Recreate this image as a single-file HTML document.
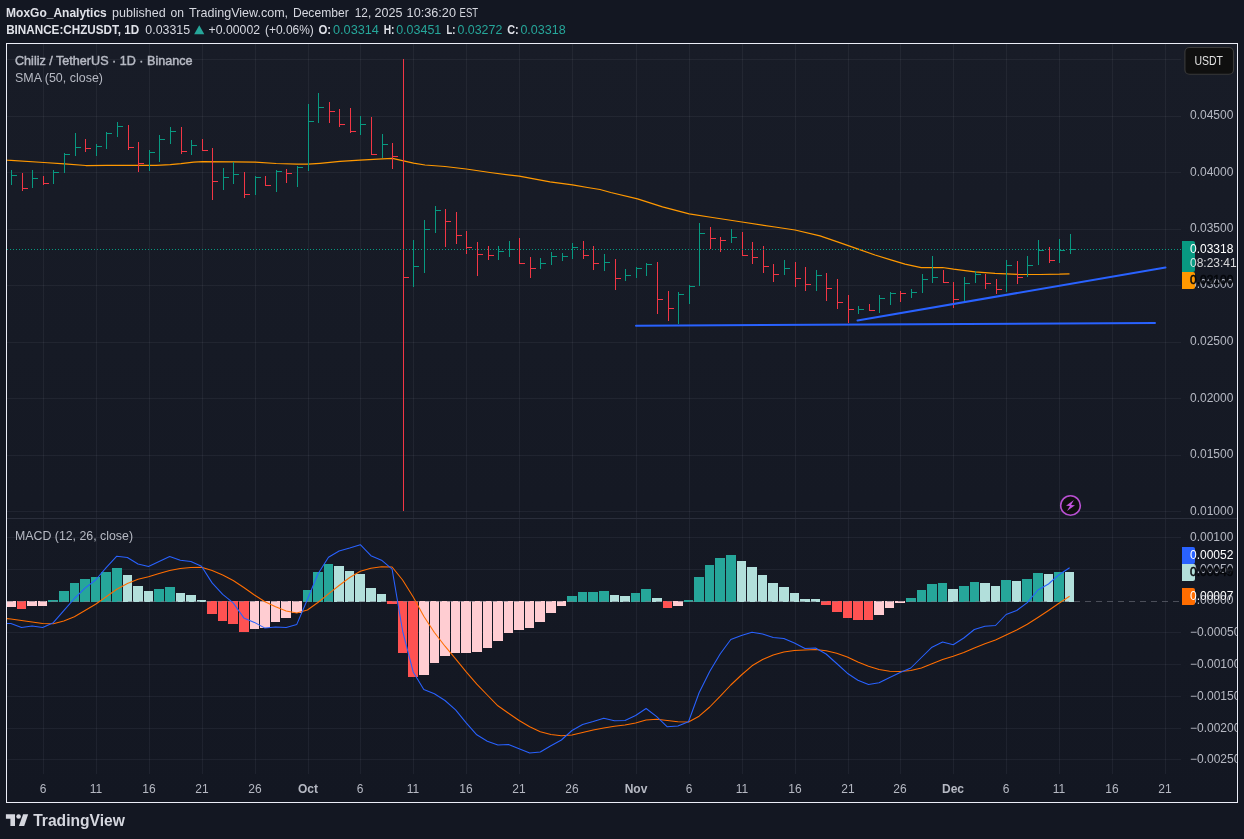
<!DOCTYPE html>
<html><head><meta charset="utf-8"><title>CHZUSDT</title>
<style>
html,body{margin:0;padding:0;background:#131722;}
body{width:1244px;height:839px;overflow:hidden;position:relative;font-family:"Liberation Sans",sans-serif;}
.hdr{position:absolute;left:7px;white-space:nowrap;color:#d6d8e0;font-size:12.6px;line-height:16px;height:16px;}
.hdr b{font-weight:bold;color:#dfe1e8}
.t{color:#26a69a}
#frame{position:absolute;left:6px;top:43px;width:1232px;height:760px;box-sizing:border-box;border:1px solid #eceef8;
background:linear-gradient(180deg,#181c27 0%,#131722 100%);}
svg{position:absolute;left:0;top:0;will-change:transform}
text{font-family:"Liberation Sans",sans-serif}
</style></head><body>
<div id="frame"></div>
<svg width="1244" height="839" viewBox="0 0 1244 839">
<defs><clipPath id="cp1"><rect x="7" y="44" width="1174" height="474"/></clipPath>
<clipPath id="cp2"><rect x="7" y="519" width="1174" height="255"/></clipPath>
<clipPath id="cax"><rect x="1181" y="44" width="56" height="730"/></clipPath></defs>

<text x="6.1" y="16.9" font-size="12.2" fill="#e0e2e9" font-weight="bold" textLength="100.7" lengthAdjust="spacingAndGlyphs">MoxGo_Analytics</text>
<text x="112.0" y="16.9" font-size="12.2" fill="#d6d8e0" textLength="53.6" lengthAdjust="spacingAndGlyphs">published</text>
<text x="170.4" y="16.9" font-size="12.2" fill="#d6d8e0" textLength="13.5" lengthAdjust="spacingAndGlyphs">on</text>
<text x="189.1" y="16.9" font-size="12.2" fill="#d6d8e0" textLength="99.0" lengthAdjust="spacingAndGlyphs">TradingView.com,</text>
<text x="292.9" y="16.9" font-size="12.2" fill="#d6d8e0" textLength="55.8" lengthAdjust="spacingAndGlyphs">December</text>
<text x="354.8" y="16.9" font-size="12.2" fill="#d6d8e0" textLength="16.4" lengthAdjust="spacingAndGlyphs">12,</text>
<text x="374.5" y="16.9" font-size="12.2" fill="#d6d8e0" textLength="28.0" lengthAdjust="spacingAndGlyphs">2025</text>
<text x="406.6" y="16.9" font-size="12.2" fill="#d6d8e0" textLength="49.4" lengthAdjust="spacingAndGlyphs">10:36:20</text>
<text x="459.6" y="16.9" font-size="12.2" fill="#d6d8e0" textLength="18.6" lengthAdjust="spacingAndGlyphs">EST</text>
<text x="6.2" y="33.8" font-size="12.2" fill="#e0e2e9" font-weight="bold" textLength="133.0" lengthAdjust="spacingAndGlyphs">BINANCE:CHZUSDT, 1D</text>
<text x="145.3" y="33.8" font-size="12.2" fill="#d6d8e0" textLength="44.8" lengthAdjust="spacingAndGlyphs">0.03315</text>
<path fill="#26a69a" d="M194.2 34.2L204.3 34.2L199.25 25.2Z"/>
<text x="208.6" y="33.8" font-size="12.2" fill="#d6d8e0" textLength="51.5" lengthAdjust="spacingAndGlyphs">+0.00002</text>
<text x="265.0" y="33.8" font-size="12.2" fill="#d6d8e0" textLength="48.8" lengthAdjust="spacingAndGlyphs">(+0.06%)</text>
<text x="318.4" y="33.8" font-size="12.2" fill="#e0e2e9" font-weight="bold" textLength="12.7" lengthAdjust="spacingAndGlyphs">O:</text>
<text x="333.0" y="33.8" font-size="12.2" fill="#26a69a" textLength="45.9" lengthAdjust="spacingAndGlyphs">0.03314</text>
<text x="383.7" y="33.8" font-size="12.2" fill="#e0e2e9" font-weight="bold" textLength="10.8" lengthAdjust="spacingAndGlyphs">H:</text>
<text x="396.2" y="33.8" font-size="12.2" fill="#26a69a" textLength="45.1" lengthAdjust="spacingAndGlyphs">0.03451</text>
<text x="446.4" y="33.8" font-size="12.2" fill="#e0e2e9" font-weight="bold" textLength="8.9" lengthAdjust="spacingAndGlyphs">L:</text>
<text x="457.5" y="33.8" font-size="12.2" fill="#26a69a" textLength="44.8" lengthAdjust="spacingAndGlyphs">0.03272</text>
<text x="507.2" y="33.8" font-size="12.2" fill="#e0e2e9" font-weight="bold" textLength="11.5" lengthAdjust="spacingAndGlyphs">C:</text>
<text x="520.4" y="33.8" font-size="12.2" fill="#26a69a" textLength="45.3" lengthAdjust="spacingAndGlyphs">0.03318</text>
<g stroke="#f0f3fa" stroke-opacity="0.055" stroke-width="1" shape-rendering="crispEdges">
<line x1="43.5" y1="44" x2="43.5" y2="774"/>
<line x1="96.5" y1="44" x2="96.5" y2="774"/>
<line x1="149.5" y1="44" x2="149.5" y2="774"/>
<line x1="202.5" y1="44" x2="202.5" y2="774"/>
<line x1="255.5" y1="44" x2="255.5" y2="774"/>
<line x1="308.5" y1="44" x2="308.5" y2="774"/>
<line x1="360.5" y1="44" x2="360.5" y2="774"/>
<line x1="413.5" y1="44" x2="413.5" y2="774"/>
<line x1="466.5" y1="44" x2="466.5" y2="774"/>
<line x1="519.5" y1="44" x2="519.5" y2="774"/>
<line x1="572.5" y1="44" x2="572.5" y2="774"/>
<line x1="636.5" y1="44" x2="636.5" y2="774"/>
<line x1="689.5" y1="44" x2="689.5" y2="774"/>
<line x1="742.5" y1="44" x2="742.5" y2="774"/>
<line x1="795.5" y1="44" x2="795.5" y2="774"/>
<line x1="848.5" y1="44" x2="848.5" y2="774"/>
<line x1="900.5" y1="44" x2="900.5" y2="774"/>
<line x1="953.5" y1="44" x2="953.5" y2="774"/>
<line x1="1006.5" y1="44" x2="1006.5" y2="774"/>
<line x1="1059.5" y1="44" x2="1059.5" y2="774"/>
<line x1="1112.5" y1="44" x2="1112.5" y2="774"/>
<line x1="1165.5" y1="44" x2="1165.5" y2="774"/>
<line x1="7" y1="59.5" x2="1181" y2="59.5"/>
<line x1="7" y1="116.5" x2="1181" y2="116.5"/>
<line x1="7" y1="172.5" x2="1181" y2="172.5"/>
<line x1="7" y1="229.5" x2="1181" y2="229.5"/>
<line x1="7" y1="285.5" x2="1181" y2="285.5"/>
<line x1="7" y1="342.5" x2="1181" y2="342.5"/>
<line x1="7" y1="398.5" x2="1181" y2="398.5"/>
<line x1="7" y1="455.5" x2="1181" y2="455.5"/>
<line x1="7" y1="511.5" x2="1181" y2="511.5"/>
<line x1="7" y1="537.5" x2="1181" y2="537.5"/>
<line x1="7" y1="569.5" x2="1181" y2="569.5"/>
<line x1="7" y1="632.5" x2="1181" y2="632.5"/>
<line x1="7" y1="664.5" x2="1181" y2="664.5"/>
<line x1="7" y1="696.5" x2="1181" y2="696.5"/>
<line x1="7" y1="728.5" x2="1181" y2="728.5"/>
<line x1="7" y1="759.5" x2="1181" y2="759.5"/>
</g>
<line x1="7" y1="518.5" x2="1237" y2="518.5" stroke="#2a2e3b" stroke-width="1" shape-rendering="crispEdges"/>
<g clip-path="url(#cp1)">
<polyline fill="none" stroke="#ff9800" stroke-width="1.25" stroke-linejoin="round" points="6.0,159.6 7.0,160.0 43.8,162.5 64.5,163.8 85.8,165.5 106.8,165.4 138.5,165.4 156.0,165.3 170.2,164.7 181.0,163.7 193.6,162.1 202.5,161.6 233.5,161.8 255.2,162.2 276.2,163.5 297.2,164.2 308.0,164.2 320.0,163.3 340.0,161.4 360.0,160.1 382.5,158.9 392.5,158.4 403.5,160.8 413.5,163.2 425.0,165.0 445.0,166.5 466.2,169.0 490.0,172.5 519.2,176.2 550.0,181.8 572.5,184.8 587.5,187.5 600.0,189.5 610.8,192.5 637.5,198.8 662.5,206.8 689.2,213.8 712.5,217.5 742.0,222.0 775.0,227.0 795.0,230.0 820.0,235.8 837.5,241.8 857.5,248.8 875.0,255.0 890.0,259.6 905.0,264.2 913.0,265.9 921.2,267.6 942.5,267.5 953.5,269.2 975.0,271.8 995.0,273.4 1017.5,274.3 1040.0,274.5 1059.5,274.2 1069.5,273.8"/>
<g shape-rendering="crispEdges">
<path fill="#089981" d="M11 170h1v15h-1zM12 175h5v1h-5z"/>
<path fill="#f23645" d="M22 173h1v18h-1zM23 188h5v1h-5z"/>
<path fill="#089981" d="M32 170h1v18h-1zM33 178h5v1h-5z"/>
<path fill="#f23645" d="M43 176h1v9h-1zM44 183h5v1h-5z"/>
<path fill="#089981" d="M53 170h1v14h-1zM54 172h5v1h-5z"/>
<path fill="#089981" d="M64 153h1v20h-1zM65 154h5v1h-5z"/>
<path fill="#089981" d="M75 133h1v23h-1zM76 147h5v1h-5z"/>
<path fill="#f23645" d="M85 139h1v13h-1zM86 148h5v1h-5z"/>
<path fill="#089981" d="M96 144h1v12h-1zM97 146h5v1h-5z"/>
<path fill="#089981" d="M106 132h1v17h-1zM107 133h5v1h-5z"/>
<path fill="#089981" d="M117 122h1v15h-1zM118 126h5v1h-5z"/>
<path fill="#f23645" d="M128 125h1v25h-1zM129 147h5v1h-5z"/>
<path fill="#f23645" d="M138 142h1v30h-1zM139 163h5v1h-5z"/>
<path fill="#089981" d="M149 150h1v21h-1zM150 152h5v1h-5z"/>
<path fill="#089981" d="M159 135h1v27h-1zM160 139h5v1h-5z"/>
<path fill="#089981" d="M170 127h1v17h-1zM171 131h5v1h-5z"/>
<path fill="#f23645" d="M181 127h1v27h-1zM182 151h5v1h-5z"/>
<path fill="#089981" d="M191 140h1v15h-1zM192 145h5v1h-5z"/>
<path fill="#f23645" d="M202 139h1v12h-1zM203 150h5v1h-5z"/>
<path fill="#f23645" d="M212 148h1v52h-1zM213 181h5v1h-5z"/>
<path fill="#089981" d="M223 168h1v22h-1zM224 177h5v1h-5z"/>
<path fill="#089981" d="M233 162h1v22h-1zM234 174h5v1h-5z"/>
<path fill="#f23645" d="M244 172h1v26h-1zM245 194h5v1h-5z"/>
<path fill="#089981" d="M255 176h1v19h-1zM256 177h5v1h-5z"/>
<path fill="#f23645" d="M265 176h1v10h-1zM266 185h5v1h-5z"/>
<path fill="#089981" d="M276 170h1v22h-1zM277 171h5v1h-5z"/>
<path fill="#f23645" d="M286 169h1v14h-1zM287 173h5v1h-5z"/>
<path fill="#089981" d="M297 166h1v21h-1zM298 167h5v1h-5z"/>
<path fill="#089981" d="M308 104h1v67h-1zM309 121h5v1h-5z"/>
<path fill="#089981" d="M318 93h1v30h-1zM319 107h5v1h-5z"/>
<path fill="#f23645" d="M329 102h1v21h-1zM330 111h5v1h-5z"/>
<path fill="#f23645" d="M339 109h1v18h-1zM340 124h5v1h-5z"/>
<path fill="#f23645" d="M350 108h1v25h-1zM351 131h5v1h-5z"/>
<path fill="#089981" d="M360 116h1v19h-1zM361 124h5v1h-5z"/>
<path fill="#f23645" d="M371 117h1v38h-1zM372 154h5v1h-5z"/>
<path fill="#089981" d="M382 134h1v24h-1zM383 144h5v1h-5z"/>
<path fill="#f23645" d="M392 143h1v26h-1zM393 156h5v1h-5z"/>
<path fill="#f23645" d="M403 59h1v452h-1zM404 277h5v1h-5z"/>
<path fill="#089981" d="M413 240h1v47h-1zM414 266h5v1h-5z"/>
<path fill="#089981" d="M424 220h1v53h-1zM425 229h5v1h-5z"/>
<path fill="#089981" d="M435 206h1v27h-1zM436 210h5v1h-5z"/>
<path fill="#f23645" d="M445 209h1v38h-1zM446 221h5v1h-5z"/>
<path fill="#f23645" d="M456 212h1v32h-1zM457 235h5v1h-5z"/>
<path fill="#f23645" d="M466 231h1v23h-1zM467 247h5v1h-5z"/>
<path fill="#f23645" d="M477 242h1v34h-1zM478 254h5v1h-5z"/>
<path fill="#f23645" d="M488 246h1v14h-1zM489 255h5v1h-5z"/>
<path fill="#089981" d="M498 246h1v14h-1zM499 251h5v1h-5z"/>
<path fill="#089981" d="M509 241h1v16h-1zM510 249h5v1h-5z"/>
<path fill="#f23645" d="M519 238h1v26h-1zM520 263h5v1h-5z"/>
<path fill="#f23645" d="M530 257h1v21h-1zM531 268h5v1h-5z"/>
<path fill="#089981" d="M540 258h1v11h-1zM541 263h5v1h-5z"/>
<path fill="#089981" d="M551 252h1v13h-1zM552 256h5v1h-5z"/>
<path fill="#089981" d="M562 253h1v8h-1zM563 256h5v1h-5z"/>
<path fill="#089981" d="M572 243h1v16h-1zM573 247h5v1h-5z"/>
<path fill="#f23645" d="M583 241h1v18h-1zM584 255h5v1h-5z"/>
<path fill="#f23645" d="M593 246h1v24h-1zM594 263h5v1h-5z"/>
<path fill="#089981" d="M604 254h1v17h-1zM605 262h5v1h-5z"/>
<path fill="#f23645" d="M615 259h1v31h-1zM616 278h5v1h-5z"/>
<path fill="#089981" d="M625 269h1v12h-1zM626 275h5v1h-5z"/>
<path fill="#089981" d="M636 267h1v11h-1zM637 268h5v1h-5z"/>
<path fill="#089981" d="M646 263h1v13h-1zM647 264h5v1h-5z"/>
<path fill="#f23645" d="M657 262h1v52h-1zM658 299h5v1h-5z"/>
<path fill="#f23645" d="M668 291h1v30h-1zM669 308h5v1h-5z"/>
<path fill="#089981" d="M678 292h1v32h-1zM679 294h5v1h-5z"/>
<path fill="#089981" d="M689 285h1v19h-1zM690 286h5v1h-5z"/>
<path fill="#089981" d="M699 223h1v63h-1zM700 233h5v1h-5z"/>
<path fill="#f23645" d="M710 227h1v22h-1zM711 238h5v1h-5z"/>
<path fill="#f23645" d="M720 237h1v15h-1zM721 240h5v1h-5z"/>
<path fill="#089981" d="M731 229h1v14h-1zM732 237h5v1h-5z"/>
<path fill="#f23645" d="M742 232h1v24h-1zM743 255h5v1h-5z"/>
<path fill="#f23645" d="M752 242h1v22h-1zM753 257h5v1h-5z"/>
<path fill="#f23645" d="M763 246h1v27h-1zM764 266h5v1h-5z"/>
<path fill="#f23645" d="M773 264h1v18h-1zM774 274h5v1h-5z"/>
<path fill="#089981" d="M784 260h1v15h-1zM785 268h5v1h-5z"/>
<path fill="#f23645" d="M795 262h1v25h-1zM796 278h5v1h-5z"/>
<path fill="#f23645" d="M805 267h1v24h-1zM806 284h5v1h-5z"/>
<path fill="#089981" d="M816 270h1v21h-1zM817 275h5v1h-5z"/>
<path fill="#f23645" d="M826 273h1v28h-1zM827 288h5v1h-5z"/>
<path fill="#f23645" d="M837 279h1v30h-1zM838 302h5v1h-5z"/>
<path fill="#f23645" d="M848 295h1v28h-1zM849 309h5v1h-5z"/>
<path fill="#089981" d="M858 306h1v8h-1zM859 309h5v1h-5z"/>
<path fill="#f23645" d="M869 304h1v7h-1zM870 310h5v1h-5z"/>
<path fill="#089981" d="M879 295h1v18h-1zM880 298h5v1h-5z"/>
<path fill="#089981" d="M890 292h1v13h-1zM891 293h5v1h-5z"/>
<path fill="#f23645" d="M900 291h1v11h-1zM901 293h5v1h-5z"/>
<path fill="#089981" d="M911 289h1v9h-1zM912 292h5v1h-5z"/>
<path fill="#089981" d="M922 274h1v19h-1zM923 279h5v1h-5z"/>
<path fill="#089981" d="M932 256h1v27h-1zM933 277h5v1h-5z"/>
<path fill="#f23645" d="M943 270h1v13h-1zM944 282h5v1h-5z"/>
<path fill="#f23645" d="M953 282h1v26h-1zM954 299h5v1h-5z"/>
<path fill="#089981" d="M964 277h1v24h-1zM965 283h5v1h-5z"/>
<path fill="#089981" d="M975 271h1v12h-1zM976 274h5v1h-5z"/>
<path fill="#f23645" d="M985 274h1v15h-1zM986 283h5v1h-5z"/>
<path fill="#f23645" d="M996 279h1v15h-1zM997 289h5v1h-5z"/>
<path fill="#089981" d="M1006 260h1v32h-1zM1007 265h5v1h-5z"/>
<path fill="#f23645" d="M1017 261h1v23h-1zM1018 277h5v1h-5z"/>
<path fill="#089981" d="M1027 256h1v21h-1zM1028 265h5v1h-5z"/>
<path fill="#089981" d="M1038 240h1v25h-1zM1039 250h5v1h-5z"/>
<path fill="#f23645" d="M1049 247h1v16h-1zM1050 260h5v1h-5z"/>
<path fill="#089981" d="M1059 239h1v24h-1zM1060 250h5v1h-5z"/>
<path fill="#089981" d="M1070 234h1v20h-1zM1071 249h5v1h-5z"/>
</g>
<line x1="7" y1="249.5" x2="1181" y2="249.5" stroke="#089981" stroke-width="1" stroke-dasharray="1 2" shape-rendering="crispEdges"/>
<line x1="636" y1="325.7" x2="1155" y2="322.9" stroke="#2962ff" stroke-width="2" stroke-linecap="round"/>
<line x1="857.5" y1="320.4" x2="1165.5" y2="267.6" stroke="#2962ff" stroke-width="2" stroke-linecap="round"/>
</g>
<g clip-path="url(#cp2)">
<g shape-rendering="crispEdges">
<rect x="6" y="601" width="10" height="6" fill="#ffcdd2"/>
<rect x="17" y="601" width="9" height="8" fill="#ff5252"/>
<rect x="27" y="601" width="10" height="5" fill="#ffcdd2"/>
<rect x="38" y="601" width="9" height="5" fill="#ffcdd2"/>
<rect x="48" y="600" width="10" height="2" fill="#26a69a"/>
<rect x="59" y="591" width="10" height="11" fill="#26a69a"/>
<rect x="70" y="583" width="9" height="19" fill="#26a69a"/>
<rect x="80" y="579" width="10" height="23" fill="#26a69a"/>
<rect x="91" y="577" width="9" height="25" fill="#26a69a"/>
<rect x="101" y="572" width="10" height="30" fill="#26a69a"/>
<rect x="112" y="568" width="10" height="34" fill="#26a69a"/>
<rect x="123" y="575" width="9" height="27" fill="#b2dfdb"/>
<rect x="133" y="586" width="10" height="16" fill="#b2dfdb"/>
<rect x="144" y="591" width="9" height="11" fill="#b2dfdb"/>
<rect x="154" y="589" width="10" height="13" fill="#26a69a"/>
<rect x="165" y="587" width="10" height="15" fill="#26a69a"/>
<rect x="176" y="593" width="9" height="9" fill="#b2dfdb"/>
<rect x="186" y="595" width="10" height="7" fill="#b2dfdb"/>
<rect x="197" y="600" width="9" height="2" fill="#b2dfdb"/>
<rect x="207" y="601" width="10" height="13" fill="#ff5252"/>
<rect x="218" y="601" width="9" height="20" fill="#ff5252"/>
<rect x="228" y="601" width="10" height="23" fill="#ff5252"/>
<rect x="239" y="601" width="10" height="31" fill="#ff5252"/>
<rect x="250" y="601" width="9" height="28" fill="#ffcdd2"/>
<rect x="260" y="601" width="10" height="27" fill="#ffcdd2"/>
<rect x="271" y="601" width="9" height="21" fill="#ffcdd2"/>
<rect x="281" y="601" width="10" height="17" fill="#ffcdd2"/>
<rect x="292" y="601" width="10" height="12" fill="#ffcdd2"/>
<rect x="303" y="590" width="9" height="12" fill="#26a69a"/>
<rect x="313" y="572" width="10" height="30" fill="#26a69a"/>
<rect x="324" y="564" width="9" height="38" fill="#26a69a"/>
<rect x="334" y="566" width="10" height="36" fill="#b2dfdb"/>
<rect x="345" y="571" width="9" height="31" fill="#b2dfdb"/>
<rect x="355" y="574" width="10" height="28" fill="#b2dfdb"/>
<rect x="366" y="588" width="10" height="14" fill="#b2dfdb"/>
<rect x="377" y="594" width="9" height="8" fill="#b2dfdb"/>
<rect x="387" y="601" width="10" height="3" fill="#ff5252"/>
<rect x="398" y="601" width="9" height="52" fill="#ff5252"/>
<rect x="408" y="601" width="10" height="76" fill="#ff5252"/>
<rect x="419" y="601" width="10" height="74" fill="#ffcdd2"/>
<rect x="430" y="601" width="9" height="62" fill="#ffcdd2"/>
<rect x="440" y="601" width="10" height="55" fill="#ffcdd2"/>
<rect x="451" y="601" width="9" height="52" fill="#ffcdd2"/>
<rect x="461" y="601" width="10" height="52" fill="#ffcdd2"/>
<rect x="472" y="601" width="10" height="51" fill="#ffcdd2"/>
<rect x="483" y="601" width="9" height="47" fill="#ffcdd2"/>
<rect x="493" y="601" width="10" height="40" fill="#ffcdd2"/>
<rect x="504" y="601" width="9" height="32" fill="#ffcdd2"/>
<rect x="514" y="601" width="10" height="29" fill="#ffcdd2"/>
<rect x="525" y="601" width="9" height="27" fill="#ffcdd2"/>
<rect x="535" y="601" width="10" height="21" fill="#ffcdd2"/>
<rect x="546" y="601" width="10" height="12" fill="#ffcdd2"/>
<rect x="557" y="601" width="9" height="5" fill="#ffcdd2"/>
<rect x="567" y="596" width="10" height="6" fill="#26a69a"/>
<rect x="578" y="592" width="9" height="10" fill="#26a69a"/>
<rect x="588" y="592" width="10" height="10" fill="#26a69a"/>
<rect x="599" y="591" width="10" height="11" fill="#26a69a"/>
<rect x="610" y="595" width="9" height="7" fill="#b2dfdb"/>
<rect x="620" y="596" width="10" height="6" fill="#b2dfdb"/>
<rect x="631" y="593" width="9" height="9" fill="#26a69a"/>
<rect x="641" y="589" width="10" height="13" fill="#26a69a"/>
<rect x="652" y="598" width="10" height="4" fill="#b2dfdb"/>
<rect x="663" y="601" width="9" height="7" fill="#ff5252"/>
<rect x="673" y="601" width="10" height="5" fill="#ffcdd2"/>
<rect x="684" y="600" width="9" height="2" fill="#26a69a"/>
<rect x="694" y="577" width="10" height="25" fill="#26a69a"/>
<rect x="705" y="565" width="9" height="37" fill="#26a69a"/>
<rect x="715" y="558" width="10" height="44" fill="#26a69a"/>
<rect x="726" y="555" width="10" height="47" fill="#26a69a"/>
<rect x="737" y="561" width="9" height="41" fill="#b2dfdb"/>
<rect x="747" y="567" width="10" height="35" fill="#b2dfdb"/>
<rect x="758" y="575" width="9" height="27" fill="#b2dfdb"/>
<rect x="768" y="583" width="10" height="19" fill="#b2dfdb"/>
<rect x="779" y="587" width="10" height="15" fill="#b2dfdb"/>
<rect x="790" y="593" width="9" height="9" fill="#b2dfdb"/>
<rect x="800" y="599" width="10" height="3" fill="#b2dfdb"/>
<rect x="811" y="599" width="9" height="3" fill="#b2dfdb"/>
<rect x="821" y="601" width="10" height="4" fill="#ff5252"/>
<rect x="832" y="601" width="10" height="11" fill="#ff5252"/>
<rect x="843" y="601" width="9" height="17" fill="#ff5252"/>
<rect x="853" y="601" width="10" height="19" fill="#ff5252"/>
<rect x="864" y="601" width="9" height="19" fill="#ff5252"/>
<rect x="874" y="601" width="10" height="14" fill="#ffcdd2"/>
<rect x="885" y="601" width="9" height="7" fill="#ffcdd2"/>
<rect x="895" y="601" width="10" height="2" fill="#ffcdd2"/>
<rect x="906" y="598" width="10" height="4" fill="#26a69a"/>
<rect x="917" y="590" width="9" height="12" fill="#26a69a"/>
<rect x="927" y="584" width="10" height="18" fill="#26a69a"/>
<rect x="938" y="583" width="9" height="19" fill="#26a69a"/>
<rect x="948" y="589" width="10" height="13" fill="#b2dfdb"/>
<rect x="959" y="586" width="10" height="16" fill="#26a69a"/>
<rect x="970" y="582" width="9" height="20" fill="#26a69a"/>
<rect x="980" y="583" width="10" height="19" fill="#b2dfdb"/>
<rect x="991" y="586" width="9" height="16" fill="#b2dfdb"/>
<rect x="1001" y="580" width="10" height="22" fill="#26a69a"/>
<rect x="1012" y="581" width="9" height="21" fill="#b2dfdb"/>
<rect x="1022" y="579" width="10" height="23" fill="#26a69a"/>
<rect x="1033" y="573" width="10" height="29" fill="#26a69a"/>
<rect x="1044" y="574" width="9" height="28" fill="#b2dfdb"/>
<rect x="1054" y="572" width="10" height="30" fill="#26a69a"/>
<rect x="1065" y="572" width="9" height="30" fill="#b2dfdb"/>
</g>
<line x1="7" y1="601.5" x2="1181" y2="601.5" stroke="#787b86" stroke-opacity="0.55" stroke-width="1" stroke-dasharray="5.5 5.5" shape-rendering="crispEdges"/>
<polyline fill="none" stroke="#ff6d00" stroke-width="1.05" stroke-linejoin="round" points="0.3,618.0 10.9,619.0 21.5,620.5 32.1,622.0 42.7,623.5 53.3,623.7 63.8,621.0 74.4,616.8 85.0,610.5 95.6,604.2 106.2,596.8 116.8,589.2 127.4,583.5 138.0,579.2 148.5,576.8 159.1,573.5 169.7,570.5 180.3,568.5 190.9,567.5 201.5,567.2 212.1,570.5 222.7,575.0 233.2,580.5 243.8,587.5 254.4,595.0 265.0,601.8 275.6,606.8 286.2,611.0 296.8,613.0 307.4,610.0 317.9,602.5 328.5,593.8 339.1,585.5 349.7,577.5 360.3,571.2 370.9,568.2 381.5,566.8 392.1,567.0 402.6,580.0 413.2,597.0 423.8,616.2 434.4,632.5 445.0,646.2 455.6,658.8 466.2,671.8 476.8,684.2 487.3,695.0 497.9,705.8 508.5,713.2 519.1,720.5 529.7,726.8 540.3,731.8 550.9,734.5 561.4,735.8 572.0,735.0 582.6,732.5 593.2,730.0 603.8,728.0 614.4,726.2 625.0,725.0 635.6,723.0 646.1,720.0 656.7,719.2 667.3,720.5 677.9,721.8 688.5,722.0 699.1,716.2 709.7,707.0 720.3,696.2 730.8,685.0 741.4,675.0 752.0,665.8 762.6,659.5 773.2,655.0 783.8,652.0 794.4,650.5 805.0,650.0 815.5,649.5 826.1,650.8 836.7,653.2 847.3,657.0 857.9,662.0 868.5,666.2 879.1,669.5 889.7,671.2 900.2,671.4 910.8,670.5 921.4,668.0 932.0,663.8 942.6,659.5 953.2,656.2 963.8,652.5 974.3,648.0 984.9,643.8 995.5,640.0 1006.1,635.0 1016.7,630.0 1027.3,624.2 1037.9,617.5 1048.5,610.5 1059.0,603.2 1069.6,596.2"/>
<polyline fill="none" stroke="#2962ff" stroke-width="1.05" stroke-linejoin="round" points="0.3,623.5 10.9,623.5 21.5,627.5 32.1,626.0 42.7,627.5 53.3,622.7 63.8,610.7 74.4,598.5 85.0,588.2 95.6,580.0 106.2,567.7 116.8,556.2 127.4,557.5 138.0,564.0 148.5,566.5 159.1,561.5 169.7,556.5 180.3,560.2 190.9,561.5 201.5,566.2 212.1,582.9 222.7,594.4 233.2,602.9 243.8,617.9 254.4,622.4 265.0,628.1 275.6,627.1 286.2,627.4 296.8,624.4 307.4,599.5 317.9,574.0 328.5,557.2 339.1,551.0 349.7,548.0 360.3,544.7 370.9,555.7 381.5,560.2 392.1,569.2 402.6,631.0 413.2,672.0 423.8,689.5 434.4,693.8 445.0,700.5 455.6,709.8 466.2,722.8 476.8,734.8 487.3,741.2 497.9,745.0 508.5,744.5 519.1,748.8 529.7,753.0 540.3,752.0 550.9,745.8 561.4,740.0 572.0,730.5 582.6,724.5 593.2,721.5 603.8,718.2 614.4,720.7 625.0,720.5 635.6,715.5 646.1,708.5 656.7,716.7 667.3,726.8 677.9,726.0 688.5,721.7 699.1,692.7 709.7,671.5 720.3,653.7 730.8,639.5 741.4,635.5 752.0,632.2 762.6,634.0 773.2,637.5 783.8,638.5 794.4,643.0 805.0,648.5 815.5,648.0 826.1,654.0 836.7,663.5 847.3,673.2 857.9,680.2 868.5,684.5 879.1,682.8 889.7,677.5 900.2,672.6 910.8,668.0 921.4,657.5 932.0,647.2 942.6,642.0 953.2,644.7 963.8,638.0 974.3,629.5 984.9,626.2 995.5,625.5 1006.1,614.5 1016.7,610.5 1027.3,602.7 1037.9,590.0 1048.5,584.0 1059.0,574.7 1069.6,567.7"/>
</g>
<circle cx="1070.5" cy="505.5" r="9.8" fill="#0f0f0f" stroke="#b850d2" stroke-width="1.6"/>
<path fill="#c254de" d="M1073.9 500.0L1066.0 505.8L1069.9 506.05L1067.0 511.0L1075.0 505.3L1071.1 505.05Z"/>
<text x="15" y="65" font-size="12.2" stroke="#b6b9c3" stroke-width="0.45" fill="#b6b9c3" textLength="177.5" lengthAdjust="spacingAndGlyphs">Chiliz / TetherUS · 1D · Binance</text>
<text x="15" y="82" font-size="12.2" fill="#b6b9c3" textLength="88" lengthAdjust="spacingAndGlyphs">SMA (50, close)</text>
<text x="15" y="539.7" font-size="12.2" fill="#b6b9c3" textLength="118" lengthAdjust="spacingAndGlyphs">MACD (12, 26, close)</text>
<text x="43.0" y="793" font-size="12" text-anchor="middle" fill="#b6b9c3">6</text>
<text x="96.0" y="793" font-size="12" text-anchor="middle" fill="#b6b9c3">11</text>
<text x="149.0" y="793" font-size="12" text-anchor="middle" fill="#b6b9c3">16</text>
<text x="202.0" y="793" font-size="12" text-anchor="middle" fill="#b6b9c3">21</text>
<text x="255.0" y="793" font-size="12" text-anchor="middle" fill="#b6b9c3">26</text>
<text x="308.0" y="793" font-size="12" text-anchor="middle" fill="#b6b9c3" font-weight="bold">Oct</text>
<text x="360.0" y="793" font-size="12" text-anchor="middle" fill="#b6b9c3">6</text>
<text x="413.0" y="793" font-size="12" text-anchor="middle" fill="#b6b9c3">11</text>
<text x="466.0" y="793" font-size="12" text-anchor="middle" fill="#b6b9c3">16</text>
<text x="519.0" y="793" font-size="12" text-anchor="middle" fill="#b6b9c3">21</text>
<text x="572.0" y="793" font-size="12" text-anchor="middle" fill="#b6b9c3">26</text>
<text x="636.0" y="793" font-size="12" text-anchor="middle" fill="#b6b9c3" font-weight="bold">Nov</text>
<text x="689.0" y="793" font-size="12" text-anchor="middle" fill="#b6b9c3">6</text>
<text x="742.0" y="793" font-size="12" text-anchor="middle" fill="#b6b9c3">11</text>
<text x="795.0" y="793" font-size="12" text-anchor="middle" fill="#b6b9c3">16</text>
<text x="848.0" y="793" font-size="12" text-anchor="middle" fill="#b6b9c3">21</text>
<text x="900.0" y="793" font-size="12" text-anchor="middle" fill="#b6b9c3">26</text>
<text x="953.0" y="793" font-size="12" text-anchor="middle" fill="#b6b9c3" font-weight="bold">Dec</text>
<text x="1006.0" y="793" font-size="12" text-anchor="middle" fill="#b6b9c3">6</text>
<text x="1059.0" y="793" font-size="12" text-anchor="middle" fill="#b6b9c3">11</text>
<text x="1112.0" y="793" font-size="12" text-anchor="middle" fill="#b6b9c3">16</text>
<text x="1165.0" y="793" font-size="12" text-anchor="middle" fill="#b6b9c3">21</text>
<g clip-path="url(#cax)" font-size="12" fill="#b6b9c3">
<text x="1190" y="118.5">0.04500</text>
<text x="1190" y="175.6">0.04000</text>
<text x="1190" y="231.6">0.03500</text>
<text x="1190" y="288.4">0.03000</text>
<text x="1190" y="344.5">0.02500</text>
<text x="1190" y="401.6">0.02000</text>
<text x="1190" y="457.5">0.01500</text>
<text x="1190" y="514.6">0.01000</text>
<text x="1190" y="540.6">0.00100</text>
<text x="1190" y="572.6">0.00050</text>
<text x="1190" y="604.0">0.00000</text>
<text x="1190" y="635.6">−0.00050</text>
<text x="1190" y="667.6">−0.00100</text>
<text x="1190" y="699.6">−0.00150</text>
<text x="1190" y="731.6">−0.00200</text>
<text x="1190" y="762.6">−0.00250</text>
</g>
<path fill="#089981" d="M1182 241.0h11a2 2 0 0 1 2 2v27.0a2 2 0 0 1 -2 2h-11z"/>
<text x="1190" y="253" font-size="12" fill="#ffffff">0.03318</text>
<text x="1190" y="266.8" font-size="12" fill="#ffffff" fill-opacity="0.82">08:23:41</text>
<path fill="#ff9800" d="M1182 272.0h11a2 2 0 0 1 2 2v13.0a2 2 0 0 1 -2 2h-11z"/>
<text x="1190" y="284" font-size="12" fill="#05070b" stroke="#05070b" stroke-width="0.5">0.03100</text>
<path fill="#2962ff" d="M1182 547.0h11a2 2 0 0 1 2 2v13.0a2 2 0 0 1 -2 2h-11z"/>
<text x="1190" y="559" font-size="12" fill="#ffffff">0.00052</text>
<path fill="#b2dfdb" d="M1182 564.0h11a2 2 0 0 1 2 2v13.0a2 2 0 0 1 -2 2h-11z"/>
<text x="1190" y="575.6" font-size="12" fill="#05070b" stroke="#05070b" stroke-width="0.5">0.00049</text>
<path fill="#ff6d00" d="M1182 588.0h11a2 2 0 0 1 2 2v13.0a2 2 0 0 1 -2 2h-11z"/>
<text x="1190" y="599.8" font-size="12" fill="#ffffff">0.00007</text>
<rect x="1184.9" y="47.5" width="48.6" height="26.7" rx="4.5" fill="#0f0f0f" stroke="#3a3a3a" stroke-width="1.15"/>
<text x="1194.4" y="65.1" font-size="13" fill="#e2e2e2" textLength="28.5" lengthAdjust="spacingAndGlyphs">USDT</text>
<g fill="#d5d7df">
<path d="M5.9 814.2H15V826H10.4V818.7H5.9Z"/>
<circle cx="18.6" cy="816.5" r="2.3"/>
<path d="M23.1 814.2H28.2L24.2 826H18.9Z"/>
<text x="33.2" y="826" font-size="16.6" font-weight="bold" textLength="91.7" lengthAdjust="spacingAndGlyphs">TradingView</text>
</g>
</svg></body></html>
